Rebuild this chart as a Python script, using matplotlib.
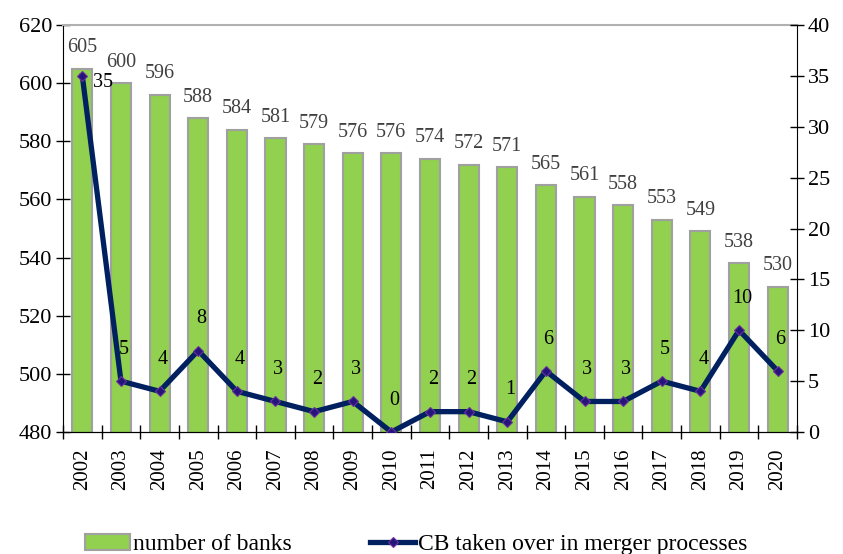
import numpy as np
import matplotlib
matplotlib.use('Agg')
from matplotlib import pyplot as plt

years = ['2002', '2003', '2004', '2005', '2006', '2007', '2008', '2009', '2010', '2011',
         '2012', '2013', '2014', '2015', '2016', '2017', '2018', '2019', '2020']
banks = [605, 600, 596, 588, 584, 581, 579, 576, 576, 574,
         572, 571, 565, 561, 558, 553, 549, 538, 530]
taken_over = [35, 5, 4, 8, 4, 3, 2, 3, 0, 2, 2, 1, 6, 3, 3, 5, 4, 10, 6]

plt.rcParams['font.family'] = ['Liberation Serif', 'DejaVu Serif']

fig = plt.figure(figsize=(8.43, 5.54), dpi=100)
ax = fig.add_axes([63 / 843, 1 - 432 / 554, 734 / 843, 407 / 554])
x = np.arange(len(years))

ax.bar(x, banks, width=0.52, color='#92D050', edgecolor='#A0A0A0', linewidth=1.5,
       label='number of banks', zorder=2)
for xi, v in zip(x, banks):
    ax.annotate(str(v), (xi, v), xytext=(0, 15), textcoords='offset points',
                ha='center', va='center', fontsize=14.5, color='#404040')

ax.set_xlim(-0.5, len(years) - 0.5)
ax.set_ylim(480, 620)
ax.set_yticks(range(480, 621, 20))
ax.set_xticks(x)
ax.set_xticklabels(years, rotation=90, fontsize=15)
ax.set_xticks(np.arange(-0.5, len(years), 1.0), minor=True)
ax.tick_params(axis='x', which='major', length=0, pad=12)
ax.tick_params(axis='x', which='minor', direction='inout', length=10, width=1)
ax.tick_params(axis='y', direction='inout', length=10, width=1, labelsize=16, pad=3)
ax.spines['top'].set_color('#B0B0B0')
ax.spines['top'].set_linewidth(1.5)
ax.spines['right'].set_visible(False)

ax2 = ax.twinx()
ax2.plot(x, taken_over, color='#002060', linewidth=3.8, marker='D', markersize=5,
         markerfacecolor='#24157A', markeredgecolor='#7030A0', markeredgewidth=0.8,
         label='CB taken over in merger processes', zorder=3)
for xi, v in zip(x, taken_over):
    if v == 35:
        off = (15, -5)
    else:
        off = (2, 23)
    ax2.annotate(str(v), (xi, v), xytext=off, textcoords='offset points',
                 ha='center', va='center', fontsize=14.5, color='black')
ax2.set_ylim(0, 40)
ax2.set_yticks(range(0, 41, 5))
ax2.tick_params(axis='y', direction='inout', length=10, width=1, labelsize=16, pad=3)
ax2.spines['top'].set_visible(False)
ax2.spines['left'].set_visible(False)

h1, l1 = ax.get_legend_handles_labels()
h2, l2 = ax2.get_legend_handles_labels()
fig.legend(h1 + h2, l1 + l2, loc='center', bbox_to_anchor=(0.494, 0.017), ncol=2,
           frameon=False, fontsize=17, columnspacing=3.3, handlelength=1.9,
           handletextpad=0.15)

fig.savefig('out.png', dpi=100)
